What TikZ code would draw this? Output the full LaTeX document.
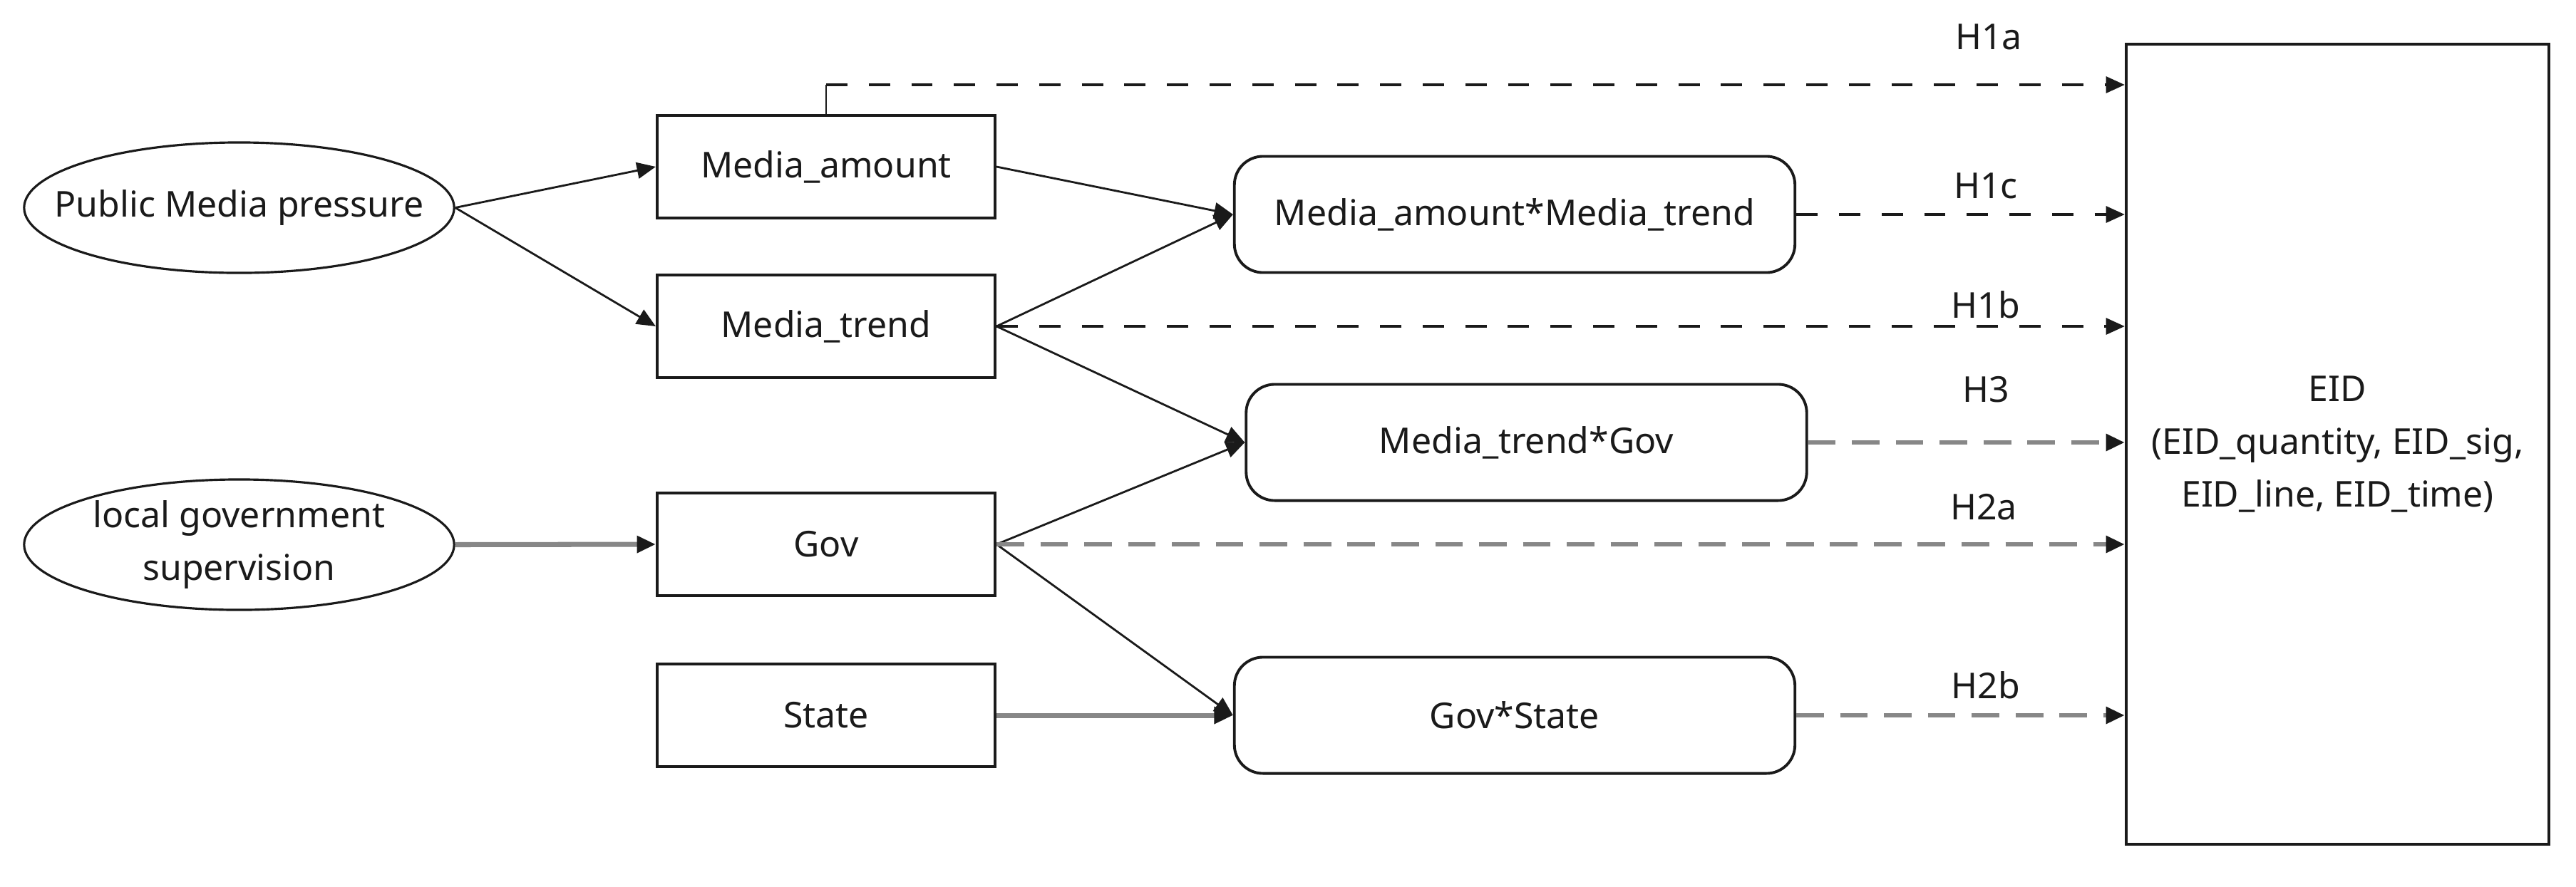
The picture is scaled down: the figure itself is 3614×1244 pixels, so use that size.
\documentclass[tikz,border=0pt]{standalone}
\usepackage{fontspec}
\setmainfont{Noto Sans}
\usetikzlibrary{arrows.meta,shapes.geometric}
\definecolor{ln}{HTML}{1A1A1A}
\definecolor{gr}{HTML}{878787}
\begin{document}
\begin{tikzpicture}[x=0.01cm,y=-0.01cm,
  every node/.style={font=\fontsize{14.2}{21}\selectfont, text=ln},
  oval/.style={ellipse, draw=ln, line width=0.9pt, minimum width=6.03cm, minimum height=1.83cm, inner xsep=-2.5cm, inner ysep=-0.4cm, align=center},
  sqbox/.style={rectangle, draw=ln, line width=1.1pt, minimum width=4.74cm, minimum height=1.44cm, inner sep=0pt},
  rbox/.style={rectangle, rounded corners=0.4cm, draw=ln, line width=1.1pt, minimum width=7.86cm, minimum height=1.63cm, inner sep=0pt},
  bigbox/.style={rectangle, draw=ln, line width=1.1pt, minimum width=5.93cm, minimum height=11.23cm, inner sep=0pt, align=center},
  lbl/.style={inner sep=0pt},
  tip/.style={-{Triangle[length=7.5pt,width=6.5pt,color=ln]}},
  arr/.style={tip, draw=ln, line width=0.8pt},
  garr/.style={tip, draw=gr, line width=2pt},
  bdash/.style={tip, draw=ln, line width=1.1pt, dash pattern=on 8.5pt off 8.5pt},
  gdash/.style={tip, draw=gr, line width=1.9pt, dash pattern=on 11pt off 6.5pt}
]
\useasboundingbox[fill=white] (0,0) rectangle (3614,1244);

% left ovals
\node[oval] (pmp) at (335.5,291.5) {Public Media pressure};
\node[oval] (lgs) at (335.5,764.5) {local government\\supervision};

% square boxes
\node[sqbox] (ma) at (1159,234) {Media\_amount};
\node[sqbox] (mt) at (1159,458) {Media\_trend};
\node[sqbox] (gov) at (1159,764) {Gov};
\node[sqbox] (st) at (1159,1004) {State};

% rounded interaction boxes
\node[rbox] (mamt) at (2125,301) {Media\_amount*Media\_trend};
\node[rbox] (mtg) at (2141.5,621) {Media\_trend*Gov};
\node[rbox] (gs) at (2125,1004) {Gov*State};

% outcome
\node[bigbox] (eid) at (3279.5,623.5) {EID\\(EID\_quantity, EID\_sig,\\EID\_line, EID\_time)};

% solid arrows
\draw[arr] (pmp.east) -- (ma.west);
\draw[arr] (pmp.east) -- (mt.west);
\draw[arr] (ma.east) -- (mamt.west);
\draw[arr] (mt.east) -- (mamt.west);
\draw[arr] (mt.east) -- (mtg.west);
\draw[arr] (gov.east) -- (mtg.west);
\draw[arr] (gov.east) -- (gs.west);
\draw[garr] (lgs.east) -- (gov.west);
\draw[garr] (st.east) -- (gs.west);

% hypothesis paths
\coordinate (c1a) at (1159,119);
\draw[ln, line width=0.8pt] (ma.north) -- (c1a);
\draw[bdash] (c1a) -- (c1a -| eid.west);
\draw[bdash] (mamt.east) -- (mamt.east -| eid.west);
\draw[bdash] (mt.east) -- (mt.east -| eid.west);
\draw[gdash] (mtg.east) -- (mtg.east -| eid.west);
\draw[gdash] (gov.east) -- (gov.east -| eid.west);
\draw[gdash] (gs.east) -- (gs.east -| eid.west);

% labels
\node[lbl] (h1a) at (2790,52) {H1a};
\node[lbl] (h1c) at (2786,261) {H1c};
\node[lbl] (h1b) at (2786,428) {H1b};
\node[lbl] (h3) at (2786,547) {H3};
\node[lbl] (h2a) at (2783,712) {H2a};
\node[lbl] (h2b) at (2786,962) {H2b};
\end{tikzpicture}
\end{document}
